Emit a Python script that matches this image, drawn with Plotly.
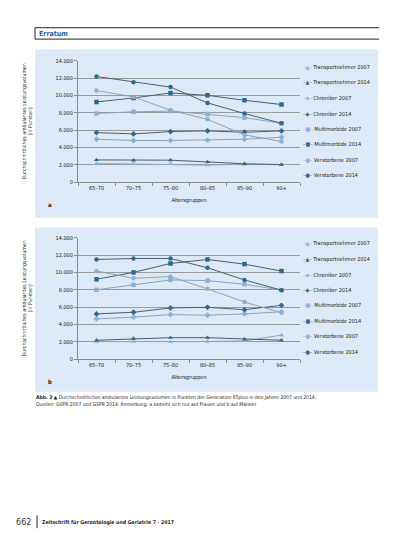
import plotly.graph_objects as go
from plotly.subplots import make_subplots

W, H = 413, 550

age_groups = ["65–70", "70–75", "75–80", "80–85", "85–90", "90+"]

series_names = [
    "Transportnehmer 2007", "Transportnehmer 2014",
    "Chroniker 2007", "Chroniker 2014",
    "Multimorbide 2007", "Multimorbide 2014",
    "Verstorbene 2007", "Verstorbene 2014",
]

# Abb. a
a_transport_2007 = [2130, 2080, 2080, 1950, 2050, 2000]
a_transport_2014 = [2550, 2500, 2520, 2320, 2100, 2020]
a_chroniker_2007 = [4940, 4790, 4790, 4830, 4940, 5170]
a_chroniker_2014 = [5700, 5550, 5820, 5900, 5740, 5900]
a_multimorbide_2007 = [7910, 8100, 8180, 7840, 7420, 6770]
a_multimorbide_2014 = [9240, 9700, 10270, 10000, 9430, 8940]
a_verstorbene_2007 = [10570, 9810, 8290, 7230, 5430, 4680]
a_verstorbene_2014 = [12170, 11520, 10950, 9130, 7900, 6770]

# Abb. b
b_transport_2007 = [2020, 2020, 1980, 2020, 2090, 2770]
b_transport_2014 = [2170, 2360, 2470, 2470, 2280, 2170]
b_chroniker_2007 = [4640, 4830, 5130, 5060, 5210, 5450]
b_chroniker_2014 = [5210, 5400, 5900, 5970, 5700, 6200]
b_multimorbide_2007 = [7990, 8560, 9130, 9050, 8630, 7950]
b_multimorbide_2014 = [9200, 10000, 11030, 11490, 10950, 10150]
b_verstorbene_2007 = [10160, 9320, 9510, 8100, 6580, 5350]
b_verstorbene_2014 = [11490, 11600, 11600, 10530, 9130, 7950]

panel_a = [a_transport_2007, a_transport_2014, a_chroniker_2007, a_chroniker_2014,
           a_multimorbide_2007, a_multimorbide_2014, a_verstorbene_2007, a_verstorbene_2014]
panel_b = [b_transport_2007, b_transport_2014, b_chroniker_2007, b_chroniker_2014,
           b_multimorbide_2007, b_multimorbide_2014, b_verstorbene_2007, b_verstorbene_2014]

LIGHT, DARK = "#8db0d4", "#2c6a92"
LIGHT_LINE, DARK_LINE = "#8fa2b6", "#4b5f6e"
symbols = ["triangle-up", "triangle-up", "diamond", "diamond", "square", "square", "circle", "circle"]
glyphs = ["▲", "▲", "◆", "◆", "■", "■", "●", "●"]
FONT = "Liberation Sans Narrow, DejaVu Sans Condensed, Arial Narrow, sans-serif"


def px(x, y):
    return x / W, 1 - y / H


fig = make_subplots(rows=2, cols=1)

for row, panel in [(1, panel_a), (2, panel_b)]:
    for i, (name, vals) in enumerate(zip(series_names, panel)):
        dark = i % 2 == 1
        fig.add_trace(go.Scatter(
            x=age_groups, y=vals, name=name, mode="lines+markers", showlegend=False,
            line=dict(color=DARK_LINE if dark else LIGHT_LINE, width=1),
            marker=dict(symbol=symbols[i], size=4.5, color=DARK if dark else LIGHT),
        ), row=row, col=1)

x0, x1 = 78 / W, 300 / W
fig.update_layout(
    width=W, height=H, margin=dict(l=0, r=0, t=0, b=0),
    paper_bgcolor="white", plot_bgcolor="rgba(0,0,0,0)",
    separators=",.", font=dict(family=FONT, size=5.5, color="#333333"),
    xaxis=dict(domain=[x0, x1], anchor="y"),
    xaxis2=dict(domain=[x0, x1], anchor="y2"),
    yaxis=dict(domain=[1 - 181 / H, 1 - 58.3 / H], anchor="x"),
    yaxis2=dict(domain=[1 - 360 / H, 1 - 237.3 / H], anchor="x2"),
)
fig.update_xaxes(type="category", range=[-0.5, 5.5], tickson="boundaries", ticks="outside",
                 ticklen=3, tickcolor="#8c8c8c", showline=True, linecolor="#8c8c8c", linewidth=1,
                 showgrid=False, tickfont=dict(size=5.5, color="#222"),
                 title=dict(text="Altersgruppen", font=dict(size=5.5, color="#222"), standoff=8))
fig.update_yaxes(range=[0, 14000], dtick=2000, tickformat=",d", ticks="outside", ticklen=3,
                 tickcolor="#8c8c8c", showline=True, linecolor="#8c8c8c", linewidth=1,
                 showgrid=True, gridcolor="#9a9a9a", gridwidth=0.8, zeroline=False,
                 tickfont=dict(size=5.5, color="#222"),
                 title=dict(text="Durchschnittliches ambulantes Leistungsvolumen<br>(in Punkten)",
                            font=dict(size=5.2, color="#222"), standoff=22))

shapes = []
# panel backgrounds
for top, bot in [(47, 217), (227, 393)]:
    ax, ay = px(35, top)
    bx, by = px(378, bot)
    shapes.append(dict(type="rect", xref="paper", yref="paper", x0=ax, x1=bx, y0=by, y1=ay,
                       fillcolor="#dde9f6", line=dict(width=0), layer="below"))
# header box (open on the right)
hx0, hy0 = px(35, 25)
hx1, hy1 = px(379, 36.5)
for seg in [(hx0, hy0, hx1, hy0), (hx0, hy1, hx1, hy1), (hx0, hy0, hx0, hy1)]:
    shapes.append(dict(type="line", xref="paper", yref="paper", x0=seg[0], y0=seg[1],
                       x1=seg[2], y1=seg[3], line=dict(color="#222", width=1)))
# footer bar
fx, fy0 = px(37, 518)
_, fy1 = px(37, 531)
shapes.append(dict(type="line", xref="paper", yref="paper", x0=fx, x1=fx, y0=fy0, y1=fy1,
                   line=dict(color="#222", width=1)))

annotations = []


def note(text, x, y, size=5.5, color="#222", xanchor="left", yanchor="middle", **kw):
    ux, uy = px(x, y)
    annotations.append(dict(text=text, x=ux, y=uy, xref="paper", yref="paper", showarrow=False,
                            xanchor=xanchor, yanchor=yanchor, font=dict(size=size, color=color),
                            align="left", **kw))


note("<b>Erratum</b>", 37, 31, size=7, color="#1f5c99")

# legends
for top in [65, 243.3]:
    for i, name in enumerate(series_names):
        c = DARK if i % 2 else LIGHT
        lc = DARK_LINE if i % 2 else LIGHT_LINE
        note(f'<span style="color:{lc}">–</span><span style="color:{c}">{glyphs[i]}</span>'
             f'<span style="color:{lc}">–</span> {name}', 301, top + i * 15.6, size=5.5)

note("<b>a</b>", 46, 204, size=6)
note("<b>b</b>", 46, 383, size=6)

note("<b>Abb. 3</b> ▲ Durchschnittliches ambulantes Leistungsvolumen in Punkten der Generation 65plus in den Jahren 2007 und 2014.<br>"
     "Quellen: GSPR 2007 und GSPR 2014, Anmerkung: a bezieht sich nur auf Frauen und b auf Männer",
     34, 402, size=5)

note("662", 33, 525, size=9, color="#333", xanchor="right")
note("<b>Zeitschrift für Gerontologie und Geriatrie 7 · 2017</b>", 40, 525, size=5.2)

fig.update_layout(shapes=shapes, annotations=annotations)
fig.write_html("out.html", config={"displayModeBar": False},
               post_script="document.body.style.margin='0';")
